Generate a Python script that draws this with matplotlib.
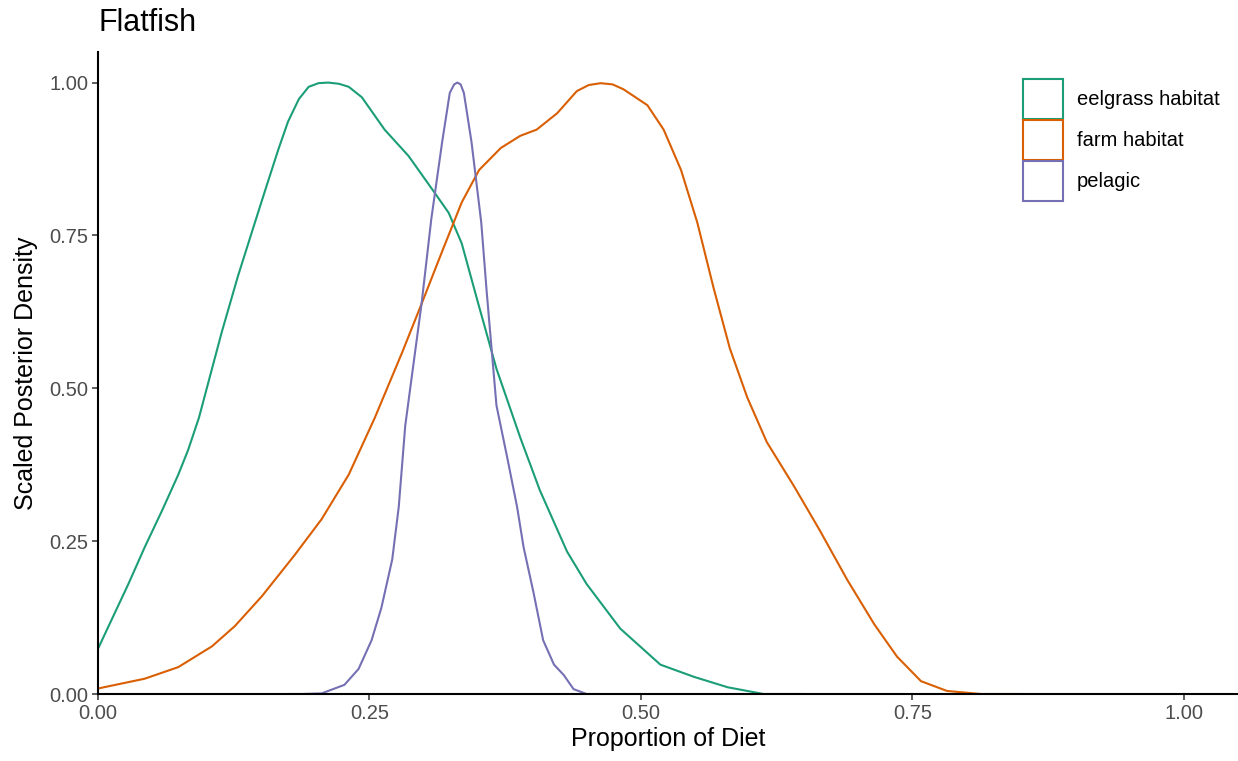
import matplotlib
matplotlib.use("Agg")
import matplotlib.pyplot as plt
from matplotlib.patches import Patch

plt.rcParams['font.family'] = ['Liberation Sans', 'DejaVu Sans']

# scaled posterior densities
eel_x = [0.0, 0.028, 0.043, 0.059, 0.074, 0.083, 0.093, 0.102, 0.114, 0.129, 0.142, 0.154,
         0.166, 0.175, 0.185, 0.194, 0.203, 0.212, 0.222, 0.231, 0.243, 0.264, 0.286, 0.31,
         0.323, 0.335, 0.35, 0.367, 0.389, 0.407, 0.432, 0.45, 0.481, 0.518, 0.549, 0.58,
         0.613, 0.65]
eel_y = [0.074, 0.18, 0.24, 0.30, 0.359, 0.399, 0.452, 0.512, 0.592, 0.684, 0.757, 0.824,
         0.89, 0.936, 0.973, 0.993, 0.999, 1.0, 0.998, 0.993, 0.976, 0.923, 0.88, 0.82,
         0.787, 0.737, 0.64, 0.532, 0.419, 0.333, 0.233, 0.18, 0.107, 0.048, 0.028, 0.011,
         0.0, 0.0]

farm_x = [0.0, 0.043, 0.074, 0.105, 0.126, 0.151, 0.181, 0.206, 0.231, 0.255, 0.28, 0.298,
          0.317, 0.335, 0.351, 0.371, 0.389, 0.404, 0.423, 0.441, 0.452, 0.463, 0.474, 0.484,
          0.506, 0.521, 0.537, 0.552, 0.567, 0.582, 0.598, 0.616, 0.641, 0.665, 0.69, 0.715,
          0.736, 0.758, 0.782, 0.813, 0.85]
farm_y = [0.009, 0.025, 0.044, 0.078, 0.111, 0.16, 0.227, 0.286, 0.359, 0.452, 0.558, 0.638,
          0.724, 0.804, 0.857, 0.893, 0.913, 0.923, 0.95, 0.986, 0.996, 0.999, 0.997, 0.989,
          0.963, 0.923, 0.857, 0.771, 0.664, 0.565, 0.485, 0.412, 0.34, 0.267, 0.187, 0.114,
          0.061, 0.021, 0.005, 0.0, 0.0]

pel_x = [0.175, 0.188, 0.206, 0.227, 0.24, 0.252, 0.261, 0.271, 0.277, 0.283, 0.289, 0.298,
         0.307, 0.317, 0.324, 0.328, 0.331, 0.334, 0.337, 0.344, 0.353, 0.358, 0.367, 0.377,
         0.386, 0.392, 0.401, 0.41, 0.42, 0.429, 0.438, 0.45, 0.46]
pel_y = [0.0, 0.0, 0.001, 0.015, 0.041, 0.088, 0.141, 0.22, 0.306, 0.439, 0.519, 0.638,
         0.777, 0.903, 0.983, 0.997, 1.0, 0.997, 0.983, 0.903, 0.771, 0.658, 0.472, 0.386,
         0.306, 0.24, 0.167, 0.088, 0.048, 0.031, 0.008, 0.0, 0.0]

labels = ["eelgrass habitat", "farm habitat", "pelagic"]
colors = ["#1B9E77", "#D95F02", "#7570B3"]
ticks = [0.0, 0.25, 0.5, 0.75, 1.0]

fig = plt.figure(figsize=(12.38, 7.61), dpi=100)
ax = fig.add_axes([98 / 1238, 1 - 694 / 761, 1 - 98 / 1238, (694 - 52) / 761])

for xs, ys, c in zip([eel_x, farm_x, pel_x], [eel_y, farm_y, pel_y], colors):
    ax.plot(xs, ys, color=c, lw=1.5, solid_joinstyle="round")

ax.set_xlim(0, 1.05)
ax.set_ylim(0, 1.05)
ax.set_xticks(ticks)
ax.set_yticks(ticks)
ax.set_xticklabels([f"{t:.2f}" for t in ticks])
ax.set_yticklabels([f"{t:.2f}" for t in ticks])
ax.tick_params(colors="#333333", labelcolor="#4D4D4D", labelsize=14.5, length=4, width=1.1, pad=3)
for s in ["top", "right"]:
    ax.spines[s].set_visible(False)
for s in ["left", "bottom"]:
    ax.spines[s].set_linewidth(1.5)
    ax.spines[s].set_color("black")

ax.set_xlabel("Proportion of Diet", fontsize=18, labelpad=3)
ax.set_ylabel("Scaled Posterior Density", fontsize=18, labelpad=8)
fig.text(98 / 1238, 1 - 23 / 761, "Flatfish", fontsize=22, ha="left", va="center")

handles = [Patch(facecolor="white", edgecolor=c, lw=1.5) for c in colors]
ax.legend(handles, labels, loc="upper left", bbox_to_anchor=(0.811, 0.958), frameon=False,
          fontsize=14.5, handlelength=2.0, handleheight=2.68, labelspacing=0.05,
          handletextpad=0.7, borderaxespad=0, borderpad=0)

fig.savefig("out.png", dpi=100)
